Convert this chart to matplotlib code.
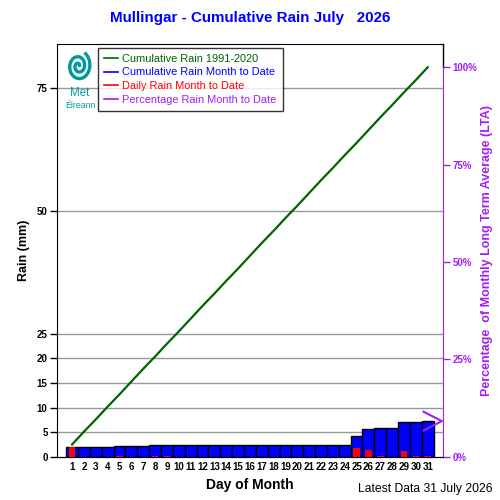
import numpy as np
import matplotlib
matplotlib.use("Agg")
import matplotlib.pyplot as plt
from matplotlib.lines import Line2D

plt.rcParams['font.family'] = ['Liberation Sans', 'DejaVu Sans']

# ---- data ----
days = list(range(1, 32))
daily_rain = [2.05, 0, 0, 0, 0.15, 0, 0, 0.1, 0.1, 0, 0, 0, 0, 0, 0, 0,
              0, 0, 0, 0, 0, 0, 0, 0, 1.85, 1.4, 0.15, 0, 1.2, 0.1, 0.15]
clim_cum = [2.5, 5.1, 7.6, 10.2, 12.7, 15.3, 17.9, 20.4, 23.0, 25.5, 28.1,
            30.7, 33.2, 35.8, 38.3, 40.9, 43.5, 46.0, 48.6, 51.1, 53.7,
            56.3, 58.8, 61.4, 63.9, 66.5, 69.1, 71.6, 74.2, 76.7, 79.3]
lta = 79.3
y_ticks = [0, 5, 10, 15, 20, 25, 50, 75]
pct_ticks = [0, 25, 50, 75, 100]

cum_rain = np.cumsum(daily_rain)
pct_now = cum_rain[-1] / lta * 100

GREEN = '#006400'
BLUE = '#0000ff'
RED = '#ff0000'
PURPLE = '#a020f0'

fig = plt.figure(figsize=(5, 5), dpi=100)
ax = fig.add_axes([0.1146, 0.0866, 0.7704, 0.826])
ymax = 84.1
ax.set_xlim(-0.25, 32.25)
ax.set_ylim(0, ymax)

for t in y_ticks[1:]:
    ax.axhline(t, color='#999999', lw=1, zorder=0)

ax.bar(days, cum_rain, width=1.0, color=BLUE, edgecolor='black', lw=1, zorder=2)
ax.bar(days, daily_rain, width=0.55, color=RED, lw=0, zorder=3)
ax.plot(days, clim_cum, color=GREEN, lw=1.6, zorder=4)

ax.set_yticks(y_ticks)
ax.set_yticklabels([str(t) for t in y_ticks], fontsize=7, fontweight='bold')
ax.set_xticks(days)
ax.set_xticklabels([str(d) for d in days], fontsize=7, fontweight='bold')
ax.tick_params(axis='x', length=0, pad=4)
ax.tick_params(axis='y', length=5, width=1, direction='out', pad=2)
ax.set_xlabel('Day of Month', fontsize=10, fontweight='bold', labelpad=4)
ax.set_ylabel('Rain (mm)', fontsize=9, fontweight='bold', labelpad=5)
ax.spines['right'].set_visible(False)

ax2 = ax.twinx()
ax2.set_ylim(0, ymax / lta * 100)
ax2.set_yticks(pct_ticks)
ax2.set_yticklabels([f'{t}%' for t in pct_ticks], fontsize=7, fontweight='bold', color=PURPLE)
ax2.tick_params(axis='y', length=5, width=1, colors=PURPLE, pad=2)
ax2.spines['right'].set_color(PURPLE)
ax2.spines['right'].set_bounds(0, 100)
ax2.spines['left'].set_visible(False)
ax2.spines['top'].set_visible(False)
ax2.plot([32.25, 32.25], [100, ymax / lta * 100], color='black', lw=1, clip_on=False)
ax2.set_ylabel('Percentage  of Monthly Long Term Average (LTA)', fontsize=9,
               fontweight='bold', color=PURPLE, labelpad=3)
# percentage marker (chevron pointing to right axis)
ax2.plot([30.65, 32.2, 30.65], [pct_now + 2.4, pct_now, pct_now - 2.4],
         color=PURPLE, lw=1.5, clip_on=False, zorder=5)

# legend
handles = [Line2D([], [], color=c, lw=1.2) for c in (GREEN, BLUE, RED, PURPLE)]
labels = ['Cumulative Rain 1991-2020', 'Cumulative Rain Month to Date',
          'Daily Rain Month to Date', 'Percentage Rain Month to Date']
leg = ax.legend(handles, labels, loc='upper left', bbox_to_anchor=(0.106, 0.99),
                fontsize=7.9, frameon=True, fancybox=False, edgecolor='black',
                handlelength=1.3, handletextpad=0.35, borderpad=0.55,
                labelspacing=0.33, borderaxespad=0)
leg.get_frame().set_linewidth(1)
for txt, c in zip(leg.get_texts(), (GREEN, BLUE, RED, PURPLE)):
    txt.set_color(c)
leg.set_zorder(10)

# Met Eireann logo approximation
TEAL = '#00999a'
th = np.linspace(0.5, 4.3 * np.pi, 300)
r = 0.002 + 0.0021 * th
lx = 78.5 / 500 + r * np.cos(th) * 0.8
ly = 1 - 66 / 500 + r * np.sin(th)
fig.add_artist(Line2D(lx, ly, color=TEAL, lw=2.4, transform=fig.transFigure))
fig.text(80 / 500, 1 - 93 / 500, 'Met', color=TEAL, fontsize=8.3, ha='center', va='center')
fig.text(80 / 500, 1 - 106 / 500, 'Éireann', color=TEAL, fontsize=6.3, ha='center', va='center')

fig.text(0.5, 1 - 18 / 500, 'Mullingar - Cumulative Rain July   2026', color=BLUE,
         fontsize=10.9, fontweight='bold', ha='center', va='center')
fig.text(492 / 500, 1 - 489 / 500, 'Latest Data 31 July 2026', fontsize=8.7,
         ha='right', va='center')

fig.savefig('out.png', dpi=100)
